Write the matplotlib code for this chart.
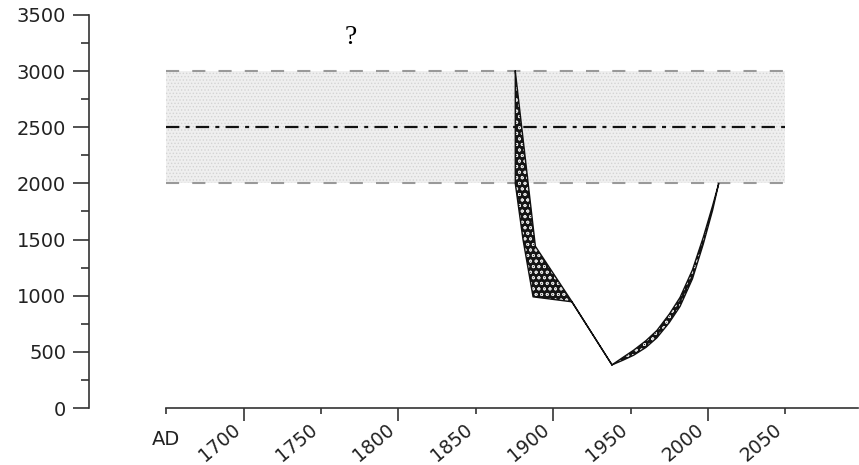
import matplotlib.pyplot as plt
import numpy as np

# y range of the "pre-exploitation" band and its mean
band_years = [1650, 2050]
band_low, band_mid, band_high = 2000, 2500, 3000

# decline: right (upper) and left (lower) edges of the uncertainty wedge
drop_right_year = [1875.5, 1888.5, 1912, 1938]
drop_right_val = [3000, 1440, 950, 384]
drop_left_year = [1875.5, 1875.5, 1880.5, 1887, 1912, 1938]
drop_left_val = [3000, 2000, 1500, 990, 946, 384]

# recovery: outer (lower) and inner (upper) edges
rec_year = [1938, 1945, 1952, 1960, 1967, 1975, 1982, 1990, 1997, 2003, 2007]
rec_outer = [384, 425, 470, 540, 625, 760, 905, 1150, 1460, 1760, 2000]
rec_inner = [384, 450, 515, 600, 690, 835, 985, 1230, 1520, 1800, 2000]

yticks = list(range(0, 3501, 500))
yminor = list(range(250, 3500, 500))
xmajor = [1700, 1800, 1900, 2000]
xminor = [1650, 1750, 1850, 1950, 2050]

plt.rcParams['font.family'] = ['DejaVu Sans']
plt.rcParams['hatch.linewidth'] = 0.6

fig = plt.figure(figsize=(8.59, 4.65), dpi=100)
ax = fig.add_axes([89 / 859, 57 / 465, 769 / 859, 393 / 465])

# stippled band
ax.fill_between(band_years, band_low, band_high, facecolor='#efefef',
                edgecolor='#d4d4d4', hatch='.....', linewidth=0, zorder=1)
ax.plot(band_years, [band_high] * 2, color='#999999', lw=1.5, dashes=(6.3, 6.3), zorder=2)
ax.plot(band_years, [band_low] * 2, color='#999999', lw=1.5, dashes=(6.3, 6.3), zorder=2)
ax.plot(band_years, [band_mid] * 2, color='#111111', lw=1.6, dashes=(6, 2.8, 1.8, 2.8), zorder=2)

# decline wedge
px = drop_right_year + drop_left_year[::-1]
py = drop_right_val + drop_left_val[::-1]
ax.fill(px, py, facecolor='#151515', edgecolor='#e0e0e0', hatch='ooo', linewidth=0, zorder=3)
ax.plot(px, py, color='#111111', lw=1.0, zorder=4)

# recovery wedge
qx = rec_year + rec_year[::-1]
qy = rec_outer + rec_inner[::-1]
ax.fill(qx, qy, facecolor='#151515', edgecolor='#e0e0e0', hatch='ooo', linewidth=0, zorder=3)
ax.plot(qx, qy, color='#111111', lw=1.0, zorder=4)

ax.text(1769, 3300, '?', family='Liberation Serif', fontsize=20, ha='center', va='center')

ax.set_xlim(1600, 2097)
ax.set_ylim(0, 3500)

for s in ['top', 'right']:
    ax.spines[s].set_visible(False)
for s in ['left', 'bottom']:
    ax.spines[s].set_color('#333333')
    ax.spines[s].set_linewidth(1.2)
ax.spines['bottom'].set_bounds(1650, 2097)

ax.set_yticks(yticks)
ax.set_yticks(yminor, minor=True)
ax.tick_params(axis='y', which='major', length=11.5, width=1.2, pad=5,
               labelsize=14, color='#333333', labelcolor='#222222')
ax.tick_params(axis='y', which='minor', length=6, width=1.2, color='#333333')

ax.set_xticks(xmajor, labels=[str(v) for v in xmajor])
ax.set_xticks(xminor, labels=[''] + [str(v) for v in xminor[1:]], minor=True)
ax.tick_params(axis='x', which='major', length=9.4, width=1.2, pad=10,
               labelsize=13.5, color='#333333', labelcolor='#222222')
ax.tick_params(axis='x', which='minor', length=4.3, width=1.2, pad=15,
               labelsize=13.5, color='#333333', labelcolor='#222222')
for lab in ax.get_xticklabels(which='both'):
    lab.set_rotation(40)
    lab.set_rotation_mode('anchor')
    lab.set_ha('right')
    lab.set_va('bottom')

ax.text(1650, -277, 'AD', ha='center', va='center', fontsize=14, color='#222222',
        clip_on=False)

fig.savefig('out.png', dpi=100)
